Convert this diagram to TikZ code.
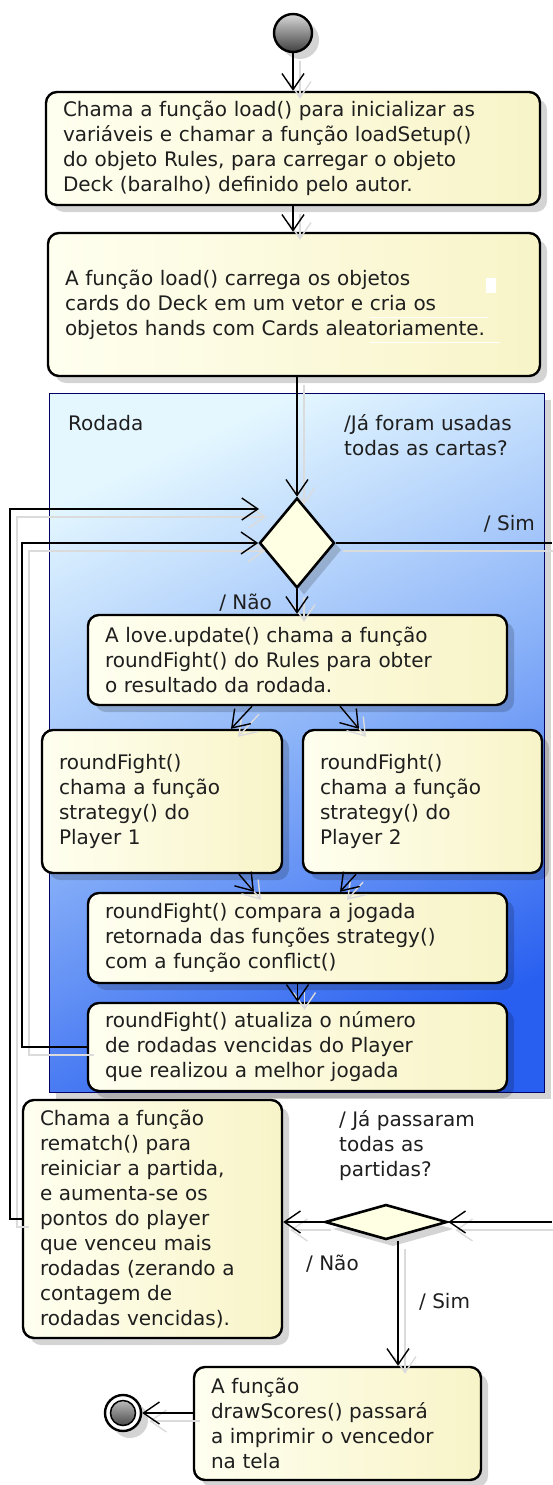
\documentclass[tikz,border=0pt]{standalone}
\usepackage{fontspec}
\setmainfont{DejaVu Sans}
\usetikzlibrary{arrows.meta,shapes.geometric,shadows}
\definecolor{boxL}{RGB}{255,255,240}
\definecolor{boxR}{RGB}{248,244,200}
\definecolor{laneA}{RGB}{228,247,255}
\definecolor{laneM}{RGB}{138,178,248}
\definecolor{laneB}{RGB}{40,95,240}
\definecolor{dia}{RGB}{255,255,228}
\definecolor{txt}{RGB}{30,30,30}
\begin{document}
\begin{tikzpicture}[x=1pt,y=-1pt,
  lbl/.style={font=\fontsize{20}{25}\selectfont, inner sep=0pt, text=txt},
  shd/.style={drop shadow={shadow xshift=7pt, shadow yshift=-7pt, opacity=0.17, fill=black}},
  box/.style={lbl, shd, draw, line width=2.4pt, rounded corners=11pt, left color=boxL, right color=boxR,
              inner xsep=17pt, inner ysep=0pt, align=left},
  lane/.style={draw=black!60!blue, line width=0.9pt, top color=laneA, bottom color=laneB, middle color=laneM,
               shading angle=25, shd},
  dec/.style={diamond, draw, line width=2.6pt, fill=dia, inner sep=0pt, shd},
  initnode/.style={circle, draw, line width=2.4pt, minimum size=38pt, inner sep=0pt,
                   top color=gray!30, bottom color=black!75, shd},
  conn/.style={line width=1.4pt, preaction={draw=black!14, line width=1.4pt, transform canvas={shift={(7pt,-8pt)}}}},
  arr/.style={conn, -{Straight Barb[length=16pt,width=22pt]}}
]
\useasboundingbox (0,0) rectangle (552,1485);

\node[lane, minimum width=495pt, minimum height=699pt] (lane) at (296.5,742.5) {};

\node[initnode] (start) at (293,33) {};
\node[box, minimum width=494pt, text width=460pt, minimum height=113pt] (b1) at (293,148.5)
  {Chama a função load() para inicializar as\\variáveis e chamar a função loadSetup()\\do objeto Rules, para carregar o objeto\\Deck (baralho) definido pelo autor.};
\node[box, minimum width=492pt, text width=458pt, minimum height=143pt] (b2) at (294,304.5)
  {A função load() carrega os objetos\\cards do Deck em um vetor e cria os\\objetos hands com Cards aleatoriamente.};
\fill[white] (486,278) rectangle (496,293);
\draw[white, line width=0.8pt] (370,317) -- (488,317) (370,342) -- (500,342);

\node[lbl, anchor=base west] (lrod) at (68,430) {Rodada};
\node[lbl, anchor=base west, align=left] (lq1) at (344,455) {/Já foram usadas\\todas as cartas?};

\node[dec, minimum width=75pt, minimum height=90pt] (d1) at (297,543) {};
\node[lbl, anchor=base east] (lsim1) at (535,530) {/ Sim};
\node[lbl, anchor=base east] (lnao1) at (272,609) {/ Não};

\node[box, minimum width=419pt, text width=385pt, minimum height=90pt] (b3) at (297.5,660)
  {A love.update() chama a função\\roundFight() do Rules para obter\\o resultado da rodada.};
\node[box, minimum width=240pt, text width=206pt, minimum height=143pt] (b4) at (162,801.5)
  {roundFight()\\chama a função\\strategy() do\\Player 1};
\node[box, minimum width=239pt, text width=205pt, minimum height=143pt] (b5) at (422.5,801.5)
  {roundFight()\\chama a função\\strategy() do\\Player 2};
\node[box, minimum width=419pt, text width=385pt, minimum height=90pt] (b6) at (297.5,938)
  {roundFight() compara a jogada\\retornada das funções strategy()\\com a função conflict()};
\node[box, minimum width=419pt, text width=385pt, minimum height=88pt] (b7) at (297.5,1047)
  {roundFight() atualiza o número\\de rodadas vencidas do Player\\que realizou a melhor jogada};

\node[box, minimum width=259pt, text width=225pt, minimum height=238pt] (rm) at (152.5,1219)
  {Chama a função\\rematch() para\\reiniciar a partida,\\e aumenta-se os\\pontos do player\\que venceu mais\\rodadas (zerando a\\contagem de\\rodadas vencidas).};
\node[lbl, anchor=base west, align=left] (lq2) at (339,1176) {/ Já passaram\\todas as\\partidas?};
\node[dec, minimum width=122pt, minimum height=35pt] (d2) at (386,1222) {};
\node[lbl, anchor=base west] (lnao2) at (306,1270) {/ Não};
\node[lbl, anchor=base west] (lsim2) at (419,1308) {/ Sim};

\node[box, minimum width=287pt, text width=253pt, minimum height=113pt] (b8) at (337.5,1423.5)
  {A função\\drawScores() passará\\a imprimir o vencedor\\na tela};
\node[circle, draw, line width=2.4pt, fill=white, minimum size=36pt, inner sep=0pt, shd,
      path picture={\shade[top color=gray!35, bottom color=black!80] (path picture bounding box.center) circle (12.5pt);
                    \draw[line width=1.5pt] (path picture bounding box.center) circle (12.5pt);}] (final) at (123,1413) {};

\coordinate (inA) at (259,509);
\coordinate (exA) at (552,543);
\coordinate (exB) at (552,1222);

\draw[arr] (start) -- (b1);
\draw[arr] (b1.south) -- (b1.south |- b2.north);
\draw[arr] (d1.north |- b2.south) -- (d1.north);
\draw[arr] (d1.south) -- (d1.south |- b3.north);
\draw[arr] ([xshift=-45.5pt]b3.south) -- ([xshift=69pt]b4.north);
\draw[arr] ([xshift=42.5pt]b3.south) -- ([xshift=-63.5pt]b5.north);
\draw[arr] ([xshift=77pt]b4.south) -- ([xshift=-43.5pt]b6.north);
\draw[arr] ([xshift=-66.5pt]b5.south) -- ([xshift=42.5pt]b6.north);
\draw[arr] (b6.south) -- (b7.north);
\draw[arr] (b7.west) -- ++(-65,0) |- (d1.west);
\draw[arr] (rm.west) -- ++(-12,0) |- (inA);
\draw[conn] (d1.east) -- (exA);
\draw[arr] (exB) -- (d2.east);
\draw[arr] (d2.west) -- (d2.west -| rm.east);
\draw[arr] ([xshift=12pt]d2.south) -- ([xshift=12pt]d2.south |- b8.north);
\draw[arr] (final.east -| b8.west) -- (final.east);
\end{tikzpicture}
\end{document}
